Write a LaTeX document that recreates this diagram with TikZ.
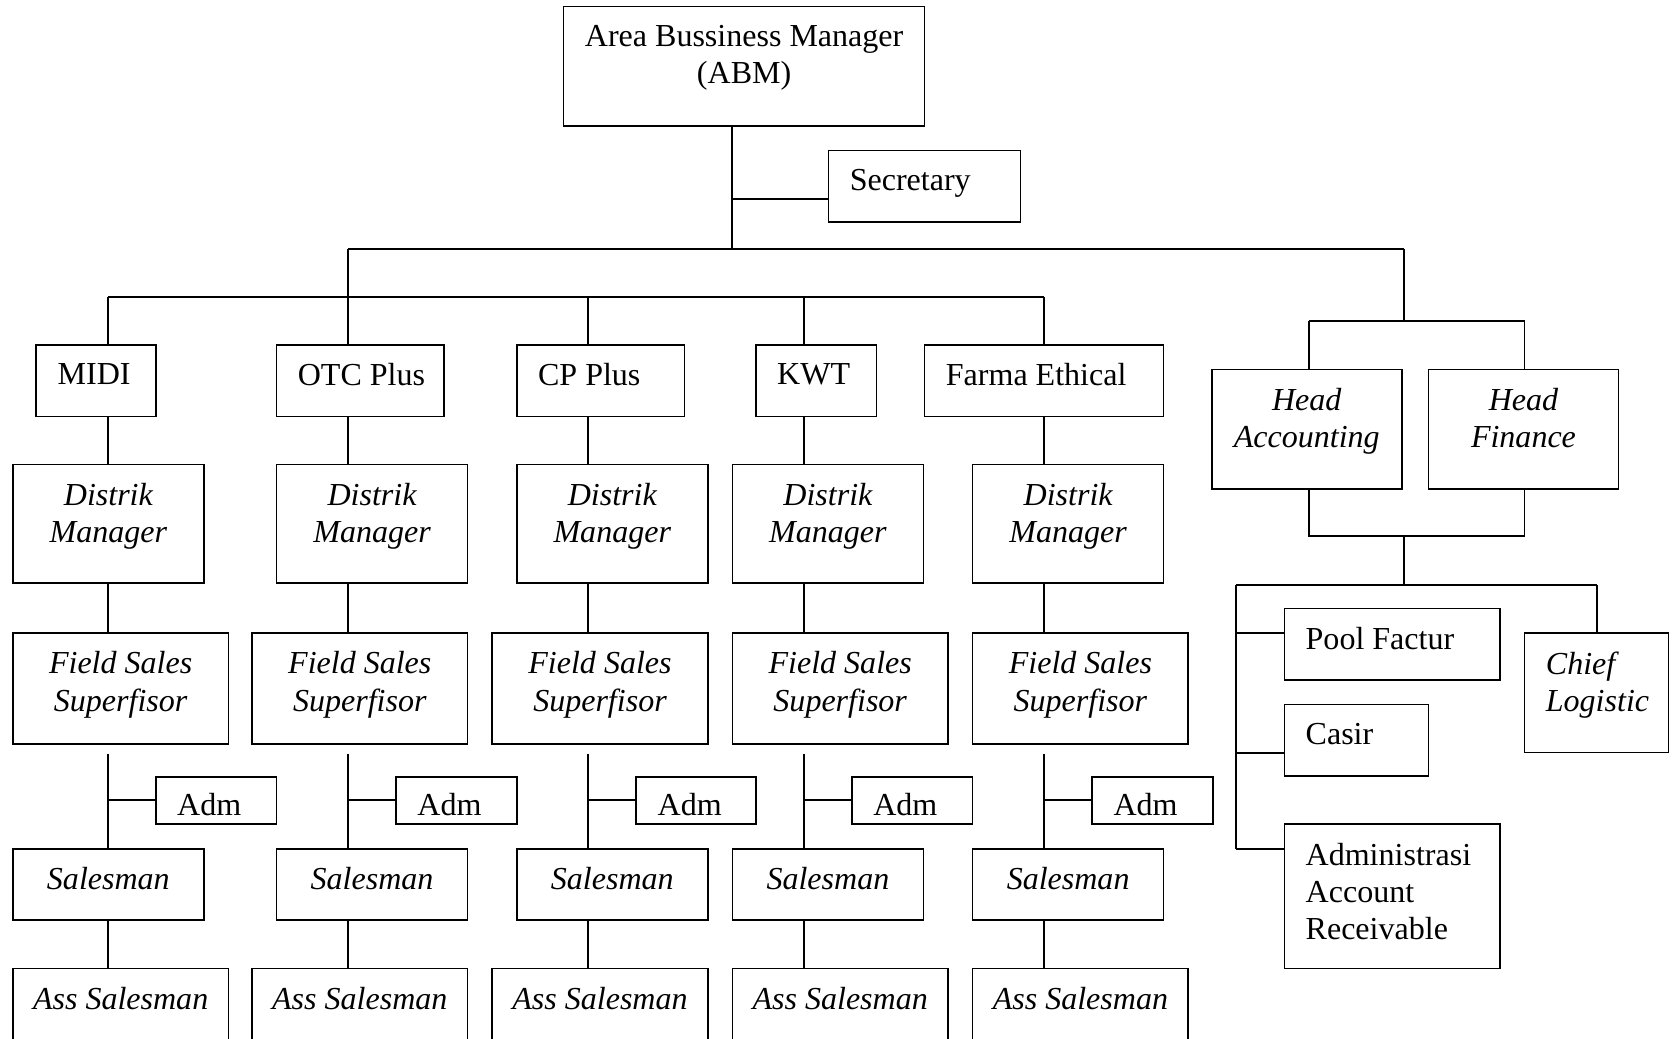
\documentclass[tikz,border=0pt]{standalone}
\usepackage{fontspec}
\setmainfont{Liberation Serif}
\usetikzlibrary{fit}
\tikzset{
  box/.style={draw=black, line width=0.6pt, inner sep=0pt, outer sep=0pt, rectangle},
  txt/.style={inner sep=0pt, font=\fontsize{12}{14}\selectfont},
  wire/.style={draw=black, line width=0.7pt},
}
\newcommand\cbox[6]{%
  \node[box, fit={(#2,#3)(#4,#5)}] (#1) {};
  \node[txt, anchor=north, align=center] (#1-t) at ([yshift=-6.8pt]#1.north) {#6};}
\newcommand\lbox[7][6.8pt]{%
  \node[box, fit={(#3,#4)(#5,#6)}] (#2) {};
  \node[txt, anchor=north west, align=left] (#2-t) at ([xshift=7.8pt,yshift=-#1]#2.north west) {#7};}
\begin{document}
\begin{tikzpicture}[x=0.4pt,y=-0.4pt]
\useasboundingbox (0,0) rectangle (1568,973);
% top
\cbox{abm}{528}{6}{866}{118}{Area Bussiness Manager\\(ABM)}
\lbox{sec}{776}{141}{956}{208}{Secretary}
% units
\lbox{u1}{34}{323}{146}{390}{MIDI}
\lbox{u2}{259}{323}{416}{390}{OTC Plus}
\lbox{u3}{484}{323}{641}{390}{CP Plus}
\lbox{u4}{708}{323}{821}{390}{KWT}
\lbox{u5}{866}{323}{1090}{390}{Farma Ethical}
% distrik manager
\cbox{d1}{12}{435}{191}{546}{\itshape Distrik\\\itshape Manager}
\cbox{d2}{259}{435}{438}{546}{\itshape Distrik\\\itshape Manager}
\cbox{d3}{484}{435}{663}{546}{\itshape Distrik\\\itshape Manager}
\cbox{d4}{686}{435}{865}{546}{\itshape Distrik\\\itshape Manager}
\cbox{d5}{911}{435}{1090}{546}{\itshape Distrik\\\itshape Manager}
% field sales superfisor
\cbox{f1}{12}{593}{214}{697}{\itshape Field Sales\\\itshape Superfisor}
\cbox{f2}{236}{593}{438}{697}{\itshape Field Sales\\\itshape Superfisor}
\cbox{f3}{461}{593}{663}{697}{\itshape Field Sales\\\itshape Superfisor}
\cbox{f4}{686}{593}{888}{697}{\itshape Field Sales\\\itshape Superfisor}
\cbox{f5}{911}{593}{1113}{697}{\itshape Field Sales\\\itshape Superfisor}
% adm
\lbox[6pt]{a1}{146}{728}{259}{772}{Adm}
\lbox[6pt]{a2}{371}{728}{484}{772}{Adm}
\lbox[6pt]{a3}{596}{728}{708}{772}{Adm}
\lbox[6pt]{a4}{798}{728}{911}{772}{Adm}
\lbox[6pt]{a5}{1023}{728}{1136}{772}{Adm}
% salesman
\cbox{s1}{12}{795}{191}{862}{\itshape Salesman}
\cbox{s2}{259}{795}{438}{862}{\itshape Salesman}
\cbox{s3}{484}{795}{663}{862}{\itshape Salesman}
\cbox{s4}{686}{795}{865}{862}{\itshape Salesman}
\cbox{s5}{911}{795}{1090}{862}{\itshape Salesman}
% ass salesman
\cbox{as1}{12}{907}{214}{990}{\itshape Ass Salesman}
\cbox{as2}{236}{907}{438}{990}{\itshape Ass Salesman}
\cbox{as3}{461}{907}{663}{990}{\itshape Ass Salesman}
\cbox{as4}{686}{907}{888}{990}{\itshape Ass Salesman}
\cbox{as5}{911}{907}{1113}{990}{\itshape Ass Salesman}
% right side
\cbox{ha}{1135}{346}{1313}{458}{\itshape Head\\\itshape Accounting}
\cbox{hf}{1338}{346}{1516}{458}{\itshape Head\\\itshape Finance}
\lbox{pool}{1203}{570}{1405}{637}{Pool Factur}
\lbox{casir}{1203}{660}{1338}{727}{Casir}
\lbox{ar}{1203}{772}{1405}{907}{Administrasi\\Account\\Receivable}
\lbox{chief}{1428}{593}{1563}{705}{\itshape Chief\\\itshape Logistic}
% junction coordinates
\coordinate (jt) at (686,233);
\coordinate (js) at (686,186);
\coordinate (jl) at (326,233);
\coordinate (jr) at (1315,233);
\coordinate (jl2) at (326,278);
\coordinate (jr2) at (1315,301);
\coordinate (jha) at (1226,301);
\coordinate (jhf) at (1428,301);
\coordinate (jhb) at (1315,502);
\coordinate (jrb) at (1315,548);
\coordinate (jrl) at (1158,548);
\coordinate (jrr) at (1496,548);
\coordinate (jar) at (1158,795);
% top connectors
\draw[wire] (abm.south -| jt) -- (jt);
\draw[wire] (js) -- (sec.west |- js);
\draw[wire] (jl) -- (jr);
\draw[wire] (jl) -- (jl2);
\draw[wire] (101,278) -- (978,278);
% columns
\foreach \i/\c in {1/101,2/326,3/551,4/753,5/978}{
  \draw[wire] (\c,278) -- (u\i.north -| \c,0);
  \draw[wire] (u\i.south -| \c,0) -- (d\i.north -| \c,0);
  \draw[wire] (d\i.south -| \c,0) -- (f\i.north -| \c,0);
  \draw[wire] ([yshift=-3.6pt]f\i.south -| \c,0) -- (s\i.north -| \c,0);
  \draw[wire] (\c,749) -- (a\i.west |- 0,749);
  \draw[wire] (s\i.south -| \c,0) -- (as\i.north -| \c,0);
}
% right connectors
\draw[wire] (jr) -- (jr2);
\draw[wire] (jha) -- (jhf);
\draw[wire] (jha) -- (ha.north -| jha);
\draw[wire] (jhf) -- (hf.north -| jhf);
\draw[wire] (ha.south -| jha) -- (jha |- jhb) -- (jhf |- jhb) -- (hf.south -| jhf);
\draw[wire] (jhb) -- (jrb);
\draw[wire] (jrl) -- (jrr);
\draw[wire] (jrr) -- (chief.north -| jrr);
\draw[wire] (jrl) -- (jar);
\draw[wire] (jrl |- 0,593) -- (pool.west |- 0,593);
\draw[wire] (jrl |- 0,705) -- (casir.west |- 0,705);
\draw[wire] (jar) -- (ar.west |- jar);
\end{tikzpicture}
\end{document}
